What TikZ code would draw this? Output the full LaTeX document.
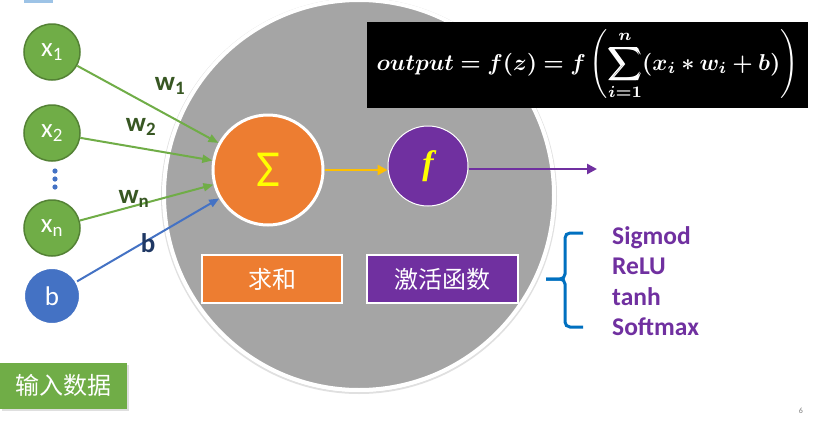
\documentclass[tikz,border=0pt]{standalone}
\usepackage{amsmath,bm}
\usepackage{fontspec}
\setmainfont{Carlito}
\newfontfamily\cjk{Noto Sans CJK SC}
\newfontfamily\serifbi{Liberation Serif}
\usetikzlibrary{arrows.meta,shadows}
\definecolor{ingreen}{HTML}{70AD47}
\definecolor{ingreendk}{HTML}{548235}
\definecolor{lblgreen}{HTML}{385723}
\definecolor{inblue}{HTML}{4472C4}
\definecolor{navy}{HTML}{1F3864}
\definecolor{sumorange}{HTML}{ED7D31}
\definecolor{actpurple}{HTML}{7030A0}
\definecolor{neurongray}{HTML}{A5A5A5}
\definecolor{gold}{HTML}{FFC000}
\definecolor{sigyellow}{HTML}{FFFF00}
\definecolor{braceblue}{HTML}{0070C0}
\definecolor{barblue}{HTML}{9DC3E6}
\tikzset{
  inpnode/.style={circle, minimum size=56pt, inner sep=0pt, fill=ingreen, draw=ingreendk, line width=1.5pt, text=white, font=\fontsize{27}{27}\selectfont},
  biasnode/.style={circle, minimum size=56pt, inner sep=0pt, fill=inblue, draw=white, line width=2pt, text=white, font=\fontsize{27}{27}\selectfont},
  garrow/.style={draw=ingreen, line width=2pt, -{Triangle[length=10pt,width=8pt]}},
  barrow/.style={draw=inblue, line width=2pt, -{Triangle[length=10pt,width=8pt]}},
  wlabel/.style={text=lblgreen, font=\bfseries\fontsize{27}{27}\selectfont, inner sep=0pt},
  lblbox/.style={rectangle, minimum width=140pt, minimum height=48pt, draw=white, line width=2pt, text=white, font=\cjk\fontsize{24}{24}\selectfont},
  actlist/.style={text=actpurple, font=\bfseries\fontsize{25.5}{30.5}\selectfont, align=left, inner sep=0pt},
  brc/.style={draw=braceblue, line width=3pt, rounded corners=5pt}
}
\begin{document}
\begin{tikzpicture}[x=1pt,y=-1pt]
\useasboundingbox (0,0) rectangle (815,421);
\fill[white] (0,0) rectangle (815,421);
\fill[barblue] (24,0) rectangle (53,3);
% neuron body
\draw[black!12, line width=2pt] (359,196) circle (197pt);
\node[circle, fill=neurongray, draw=white, line width=4pt, minimum size=390pt, inner sep=0pt] (neuron) at (359,195) {};
% formula
\node[fill=black, text=white, minimum width=441pt, minimum height=86pt, inner sep=0pt] (formula) at (587.5,65)
  {\resizebox{422pt}{!}{$\displaystyle\boldsymbol{output = f(z) = f\left(\sum_{i=1}^{n}(x_i * w_i + b)\right)}$}};
% inputs
\node[inpnode] (x1) at (52,52) {x\textsubscript{1}};
\node[inpnode] (x2) at (52,133) {x\textsubscript{2}};
\node[inpnode] (xn) at (52,228) {x\textsubscript{n}};
\node[biasnode] (b) at (52,296) {b};
\fill[inblue] (55,171) circle (2.6pt) (55,179) circle (2.6pt) (55,187) circle (2.6pt);
% sum and activation
\node[circle, minimum size=110pt, inner sep=0pt, fill=sumorange, draw=white, line width=3pt, text=sigyellow, font=\fontsize{52}{52}\selectfont] (sum) at (268,170) {Σ};
\node[circle, minimum size=80pt, inner sep=0pt, fill=actpurple, draw=white, line width=1pt, text=sigyellow, font=\serifbi\bfseries\itshape\fontsize{34}{34}\selectfont] (act) at (428,166) {f};
\coordinate (out) at (597,169);
% connectors
\draw[garrow] (x1) -- (sum);
\draw[garrow] (x2) -- (sum);
\draw[garrow] (xn) -- (sum);
\draw[barrow] (b) -- (sum);
\draw[draw=gold, line width=2.5pt, -{Triangle[length=10pt,width=10pt]}] (sum.east |- 0,170) -- (act.west |- 0,170);
\draw[draw=actpurple, line width=2.5pt, -{Triangle[length=10pt,width=10pt]}] (act.east |- 0,169) -- (out);
% weight labels
\node[wlabel] (w1) at (170,86) {w\textsubscript{1}};
\node[wlabel] (w2) at (141,127) {w\textsubscript{2}};
\node[wlabel] (wn) at (134,199) {w\textsubscript{n}};
\node[wlabel, text=navy] (bl) at (148,243) {b};
% label boxes
\node[lblbox, fill=sumorange] (sumlbl) at (272,279) {求和};
\node[lblbox, fill=actpurple, minimum width=151pt] (actlbl) at (442.5,279) {激活函数};
% brace
\draw[brc] (583,233) -- (565,233) -- (565,279) -- (546,279);
\draw[brc] (546,279) -- (565,279) -- (565,327) -- (583,327);
\node[actlist, anchor=west] (acts) at (612,281) {Sigmod\\ReLU\\tanh\\Softmax};
% input data
\node[fill=ingreen, text=white, minimum width=127pt, minimum height=46pt, inner sep=0pt, drop shadow={shadow xshift=2pt, shadow yshift=-2pt, opacity=0.25}, font=\cjk\fontsize{24}{24}\selectfont] (indata) at (63.5,385.5) {输入数据};
\node[text=gray, font=\fontsize{8}{8}\selectfont, inner sep=0pt] (pg) at (801,411) {6};
\end{tikzpicture}
\end{document}
